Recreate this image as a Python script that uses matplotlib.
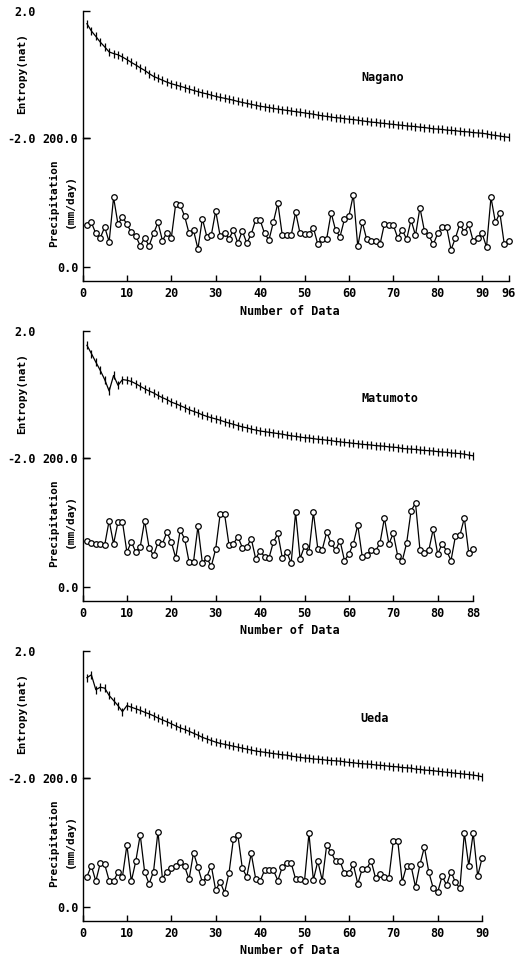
import matplotlib
matplotlib.use("Agg")
import matplotlib.pyplot as plt

# ---------------- data ----------------
stations = ["Nagano", "Matumoto", "Ueda"]
n_data = [96, 88, 90]
xtick_vals = [[0, 10, 20, 30, 40, 50, 60, 70, 80, 90, 96],
              [0, 10, 20, 30, 40, 50, 60, 70, 80, 88],
              [0, 10, 20, 30, 40, 50, 60, 70, 80, 90]]

entropy_nagano = [1.60, 1.37, 1.20, 1.02, 0.87, 0.71, 0.66, 0.62, 0.55, 0.47,
                  0.38, 0.30, 0.21, 0.13, 0.03, -0.06, -0.12, -0.18, -0.24, -0.29,
                  -0.33, -0.37, -0.41, -0.46, -0.50, -0.54, -0.58, -0.61, -0.65, -0.69,
                  -0.72, -0.75, -0.78, -0.81, -0.85, -0.88, -0.91, -0.94, -0.97, -1.00,
                  -1.02, -1.04, -1.07, -1.09, -1.11, -1.13, -1.15, -1.17, -1.19, -1.21,
                  -1.23, -1.25, -1.28, -1.30, -1.32, -1.34, -1.36, -1.37, -1.39, -1.41,
                  -1.42, -1.44, -1.46, -1.48, -1.50, -1.51, -1.53, -1.54, -1.56, -1.57,
                  -1.59, -1.60, -1.62, -1.63, -1.64, -1.66, -1.67, -1.69, -1.71, -1.72,
                  -1.73, -1.75, -1.76, -1.77, -1.79, -1.80, -1.81, -1.83, -1.84, -1.85,
                  -1.87, -1.90, -1.92, -1.94, -1.96, -1.98]
entropy_matumoto = [1.55, 1.29, 1.02, 0.76, 0.47, 0.11, 0.60, 0.29, 0.47, 0.45,
                    0.41, 0.34, 0.26, 0.18, 0.11, 0.05, -0.03, -0.10, -0.16, -0.24,
                    -0.29, -0.35, -0.41, -0.48, -0.53, -0.58, -0.64, -0.69, -0.73, -0.77,
                    -0.81, -0.86, -0.90, -0.94, -0.98, -1.02, -1.05, -1.09, -1.12, -1.15,
                    -1.17, -1.19, -1.21, -1.23, -1.25, -1.28, -1.30, -1.32, -1.34, -1.36,
                    -1.37, -1.39, -1.41, -1.42, -1.44, -1.45, -1.48, -1.49, -1.51, -1.52,
                    -1.54, -1.55, -1.57, -1.58, -1.59, -1.61, -1.62, -1.63, -1.65, -1.66,
                    -1.67, -1.70, -1.71, -1.72, -1.73, -1.75, -1.76, -1.77, -1.78, -1.80,
                    -1.81, -1.82, -1.84, -1.85, -1.86, -1.88, -1.91, -1.93]
entropy_ueda = [1.16, 1.25, 0.78, 0.86, 0.83, 0.60, 0.44, 0.28, 0.09, 0.28,
                0.23, 0.18, 0.13, 0.07, 0.02, -0.04, -0.11, -0.17, -0.23, -0.29,
                -0.36, -0.42, -0.47, -0.53, -0.59, -0.65, -0.72, -0.77, -0.82, -0.87,
                -0.91, -0.94, -0.97, -1.00, -1.03, -1.06, -1.09, -1.12, -1.15, -1.17,
                -1.19, -1.21, -1.23, -1.25, -1.27, -1.28, -1.31, -1.33, -1.35, -1.37,
                -1.38, -1.40, -1.41, -1.42, -1.44, -1.45, -1.46, -1.47, -1.49, -1.51,
                -1.52, -1.54, -1.55, -1.56, -1.57, -1.59, -1.60, -1.61, -1.63, -1.64,
                -1.65, -1.67, -1.68, -1.69, -1.72, -1.73, -1.75, -1.76, -1.77, -1.79,
                -1.80, -1.82, -1.83, -1.85, -1.86, -1.88, -1.89, -1.91, -1.93, -1.96]

precip_nagano = [65, 69, 52, 45, 62, 39, 108, 66, 78, 66,
                 54, 48, 33, 45, 33, 52, 69, 41, 53, 45,
                 98, 96, 79, 52, 57, 28, 75, 47, 49, 87,
                 48, 53, 44, 57, 37, 56, 37, 51, 73, 73,
                 52, 42, 70, 99, 49, 49, 49, 85, 52, 51,
                 51, 61, 35, 44, 44, 84, 57, 47, 74, 79,
                 112, 32, 70, 43, 41, 40, 35, 67, 65, 65,
                 45, 58, 43, 73, 49, 92, 56, 49, 35, 52,
                 62, 62, 27, 45, 67, 54, 66, 40, 45, 52,
                 31, 108, 69, 84, 35, 41]
precip_matumoto = [72, 68, 67, 67, 65, 103, 67, 101, 101, 54,
                   70, 54, 62, 103, 61, 49, 69, 67, 85, 70,
                   45, 88, 75, 39, 39, 94, 37, 45, 32, 59,
                   113, 113, 65, 67, 78, 61, 62, 75, 44, 56,
                   47, 45, 70, 83, 45, 54, 37, 116, 44, 63,
                   54, 116, 59, 58, 85, 68, 57, 72, 41, 51,
                   67, 96, 47, 49, 57, 56, 68, 107, 67, 83,
                   48, 40, 68, 118, 130, 58, 53, 57, 90, 51,
                   67, 56, 41, 79, 80, 107, 52, 59]
precip_ueda = [47, 64, 40, 68, 66, 41, 40, 54, 47, 96,
               40, 71, 112, 54, 36, 55, 117, 44, 55, 60,
               64, 70, 63, 43, 84, 62, 38, 47, 64, 26,
               39, 22, 53, 106, 111, 60, 47, 83, 44, 40,
               57, 57, 57, 41, 62, 68, 68, 43, 43, 40,
               114, 42, 71, 41, 96, 85, 71, 71, 52, 52,
               66, 36, 59, 59, 72, 45, 51, 47, 45, 102,
               103, 39, 64, 64, 31, 66, 93, 54, 29, 23,
               48, 34, 55, 38, 29, 115, 64, 115, 48, 76]

entropy_series = [entropy_nagano, entropy_matumoto, entropy_ueda]
precip_series = [precip_nagano, precip_matumoto, precip_ueda]

# ---------------- layout ----------------
W, H = 515, 958
fig = plt.figure(figsize=(W / 100, H / 100), dpi=100)
FONT = ["DejaVu Sans Mono"]
px_per_unit = 4.44
left_px = 82.5
title_pos = [(383, 78), (390, 399), (375, 719)]

def fy(y):
    return 1 - y / H

for k in range(3):
    off = 320 * k
    y_top, y_mid, y_bot = 11 + off, 138 + off, 281 + off
    width_px = n_data[k] * px_per_unit
    ax_e = fig.add_axes([left_px / W, fy(y_mid), width_px / W, (y_mid - y_top) / H])
    ax_p = fig.add_axes([left_px / W, fy(y_bot), width_px / W, (y_bot - y_mid) / H])
    for ax in (ax_e, ax_p):
        ax.set_xlim(0, n_data[k])
        ax.patch.set_alpha(0)
        for s in ("top", "right"):
            ax.spines[s].set_visible(False)
        ax.spines["left"].set_linewidth(1.0)
    ax_e.spines["bottom"].set_visible(False)
    ax_p.spines["bottom"].set_linewidth(1.0)

    xs = list(range(1, n_data[k] + 1))
    ax_e.plot(xs, entropy_series[k], color="black", lw=0.9, marker="|",
              markersize=6, markeredgewidth=0.9, clip_on=False)
    ax_e.set_ylim(-2.0, 2.0)
    ax_e.set_yticks([2.0, -2.0])
    ax_e.set_yticklabels(["2.0", "-2.0"])
    ax_e.tick_params(axis="y", direction="in", length=5, width=1.0, pad=34,
                     labelsize=8.5)
    ax_e.set_xticks([])

    ax_p.plot(xs, precip_series[k], color="black", lw=0.9, marker="o",
              markersize=4, markerfacecolor="white", markeredgecolor="black",
              markeredgewidth=0.9, clip_on=False)
    ax_p.set_ylim(-21.7, 200.0)
    ax_p.set_yticks([0.0, 200.0])
    ax_p.set_yticklabels(["0.0", "200.0"])
    ax_p.tick_params(axis="y", direction="in", length=5, width=1.0, pad=3,
                     labelsize=8.5)
    ax_p.set_xticks(xtick_vals[k])
    ax_p.set_xticklabels([str(v) for v in xtick_vals[k]])
    ax_p.tick_params(axis="x", direction="in", length=4, width=1.0, pad=4,
                     labelsize=8.5)

    for ax in (ax_e, ax_p):
        for lab in ax.get_xticklabels() + ax.get_yticklabels():
            lab.set_family(FONT)
            lab.set_fontweight("bold")

    fig.text(290 / W, fy(311 + off), "Number of Data", ha="center", va="center",
             fontsize=8.5, family=FONT, fontweight="bold")
    fig.text(22 / W, fy(74 + off), "Entropy(nat)", rotation=90, ha="center",
             va="center", fontsize=8, family=FONT, fontweight="bold")
    fig.text(54 / W, fy(203 + off), "Precipitation", rotation=90, ha="center",
             va="center", fontsize=8, family=FONT, fontweight="bold")
    fig.text(70 / W, fy(201 + off), "(mm/day)", rotation=90, ha="center",
             va="center", fontsize=8, family=FONT, fontweight="bold")
    tx, ty = title_pos[k]
    fig.text(tx / W, fy(ty), stations[k], ha="center", va="center",
             fontsize=8.5, family=FONT, fontweight="bold")

fig.savefig("out.png", dpi=100)
